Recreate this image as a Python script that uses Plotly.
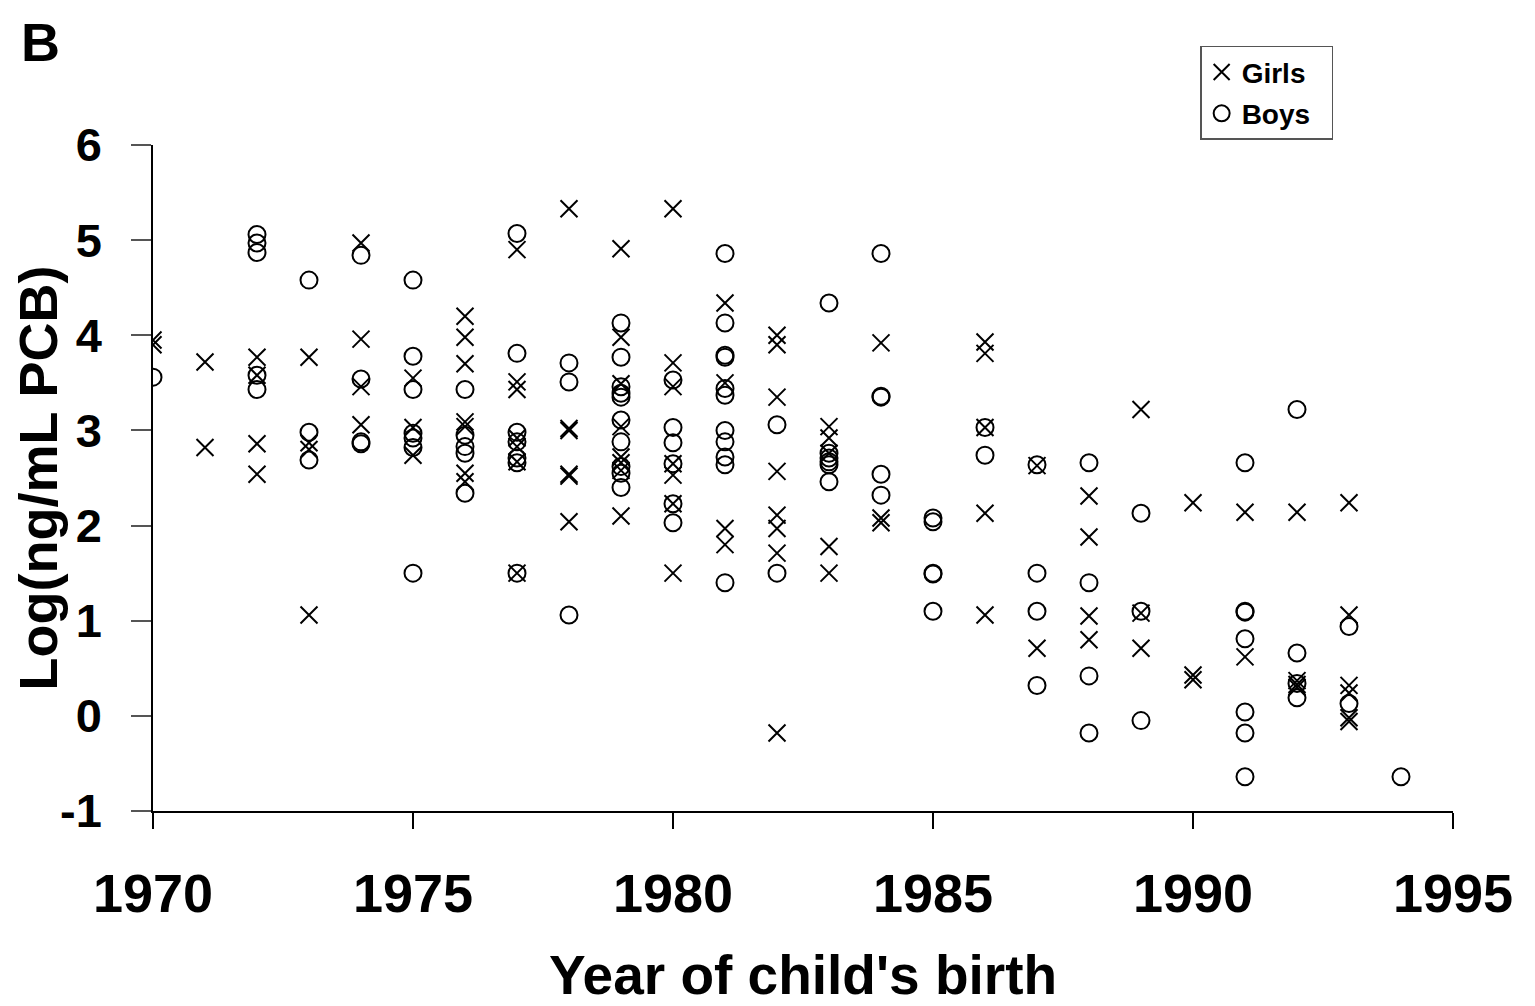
import plotly.graph_objects as go

# Girls (x markers)
girls_years = (
    [1970]*2 + [1971]*2 + [1972]*4 + [1973]*4 + [1974]*4 + [1975]*3 + [1976]*7 +
    [1977]*7 + [1978]*6 + [1979]*8 + [1980]*7 + [1981]*4 + [1982]*8 + [1983]*5 +
    [1984]*3 + [1986]*5 + [1987]*2 + [1988]*4 + [1989]*3 + [1990]*3 + [1991]*2 +
    [1992]*4 + [1993]*6
)
girls_values = [
    3.95, 3.90,
    3.72, 2.82,
    3.77, 3.58, 2.86, 2.54,
    3.77, 2.87, 2.80, 1.06,
    4.97, 3.96, 3.46, 3.06,
    3.55, 3.03, 2.74,
    4.20, 3.98, 3.70, 3.09, 3.04, 2.55, 2.46,
    4.90, 3.51, 3.43, 2.92, 2.83, 2.67, 1.50,
    5.33, 3.02, 3.00, 2.54, 2.52, 2.04,
    4.91, 3.98, 3.49, 3.04, 2.72, 2.66, 2.58, 2.10,
    5.33, 3.71, 3.46, 2.65, 2.53, 2.23, 1.50,
    4.34, 3.50, 1.97, 1.80,
    4.00, 3.90, 3.35, 2.57, 2.11, 1.97, 1.71, -0.18,
    3.04, 2.92, 2.76, 1.78, 1.50,
    3.92, 2.08, 2.03,
    3.93, 3.81, 3.03, 2.13, 1.06,
    2.63, 0.71,
    2.31, 1.88, 1.05, 0.80,
    3.22, 1.08, 0.71,
    2.24, 0.43, 0.38,
    2.14, 0.62,
    2.14, 0.37, 0.33, 0.30,
    2.24, 1.06, 0.32, 0.24, -0.02, -0.06,
]

# Boys (open circles)
boys_years = (
    [1970]*1 + [1972]*5 + [1973]*3 + [1974]*4 + [1975]*7 + [1976]*5 + [1977]*7 +
    [1978]*3 + [1979]*10 + [1980]*6 + [1981]*11 + [1982]*2 + [1983]*6 + [1984]*5 +
    [1985]*5 + [1986]*2 + [1987]*4 + [1988]*4 + [1989]*3 + [1991]*7 + [1992]*4 +
    [1993]*2 + [1994]*1
)
boys_values = [
    3.56,
    5.06, 4.97, 4.87, 3.58, 3.43,
    4.58, 2.98, 2.69,
    4.84, 3.54, 2.88, 2.86,
    4.58, 3.78, 3.43, 2.97, 2.92, 2.82, 1.50,
    3.43, 2.95, 2.83, 2.76, 2.34,
    5.07, 3.81, 2.98, 2.88, 2.71, 2.66, 1.50,
    3.71, 3.51, 1.06,
    4.13, 3.77, 3.46, 3.39, 3.35, 3.11, 2.88, 2.62, 2.55, 2.40,
    3.53, 3.03, 2.87, 2.65, 2.23, 2.03,
    4.86, 4.13, 3.79, 3.77, 3.44, 3.37, 3.00, 2.88, 2.72, 2.64, 1.40,
    3.06, 1.50,
    4.34, 2.76, 2.71, 2.67, 2.64, 2.46,
    4.86, 3.36, 3.35, 2.54, 2.32,
    2.08, 2.04, 1.50, 1.49, 1.10,
    3.03, 2.74,
    2.64, 1.50, 1.10, 0.32,
    2.66, 1.40, 0.42, -0.18,
    2.13, 1.10, -0.05,
    2.66, 1.10, 1.09, 0.81, 0.04, -0.18, -0.64,
    3.22, 0.66, 0.34, 0.19,
    0.94, 0.13,
    -0.64,
]

x_ticks = [1970, 1975, 1980, 1985, 1990, 1995]
y_ticks = [-1, 0, 1, 2, 3, 4, 5, 6]

FONT = "Liberation Sans, Arial, sans-serif"
NBSP = "\u00a0"

fig = go.Figure()
fig.add_trace(go.Scatter(
    x=girls_years, y=girls_values, mode="markers", name="Girls" + NBSP * 2,
    legendgroup="g",
    marker=dict(symbol="x-thin-open", size=17, color="black",
                line=dict(color="black", width=2)),
))
fig.add_trace(go.Scatter(
    x=boys_years, y=boys_values, mode="markers", name="Boys" + NBSP * 2,
    legendgroup="b",
    marker=dict(symbol="circle-open", size=17, color="black",
                line=dict(color="black", width=2)),
))

# page body adds an 8px offset, so the figure is slightly smaller than the window
fig.update_layout(
    width=1527, height=998,
    paper_bgcolor="white", plot_bgcolor="white",
    margin=dict(l=145, r=82, t=137, b=195, autoexpand=False),
    font=dict(family=FONT, color="black"),
    showlegend=True,
    legend=dict(
        x=0.8055, y=1.149, xanchor="left", yanchor="top",
        bordercolor="#555555", borderwidth=1.5, bgcolor="white",
        font=dict(family=FONT, size=28, weight="bold", color="black"),
        itemwidth=30, tracegroupgap=2,
    ),
    xaxis=dict(
        range=[1970, 1995], tickvals=x_ticks, ticktext=[str(v) for v in x_ticks],
        showline=True, linecolor="black", linewidth=1.5, mirror=False,
        showgrid=False, zeroline=False, automargin=False,
        ticks="outside", ticklen=16, tickcolor="black", tickwidth=1.5,
        tickfont=dict(family=FONT, size=54, weight="bold", color="black"),
        ticklabelstandoff=18,
        title=dict(text="Year of child's birth",
                   font=dict(family=FONT, size=55, weight="bold", color="black"),
                   standoff=40),
    ),
    yaxis=dict(
        range=[-1, 6], tickvals=y_ticks, ticktext=[str(v) for v in y_ticks],
        showline=True, linecolor="black", linewidth=1.5,
        showgrid=False, zeroline=False, automargin=False,
        ticks="outside", ticklen=20, tickcolor="#555555", tickwidth=1.5,
        tickfont=dict(family=FONT, size=47, weight="bold", color="black"),
        ticklabelstandoff=20,
        title=dict(text="Log(ng/mL PCB)",
                   font=dict(family=FONT, size=54, weight="bold", color="black"),
                   standoff=10),
    ),
    annotations=[dict(
        text="B", xref="paper", yref="paper", x=-0.103, y=1.203,
        xanchor="left", yanchor="top", showarrow=False,
        font=dict(family=FONT, size=54, weight="bold", color="black"),
    )],
)

fig.write_html("out.html")
